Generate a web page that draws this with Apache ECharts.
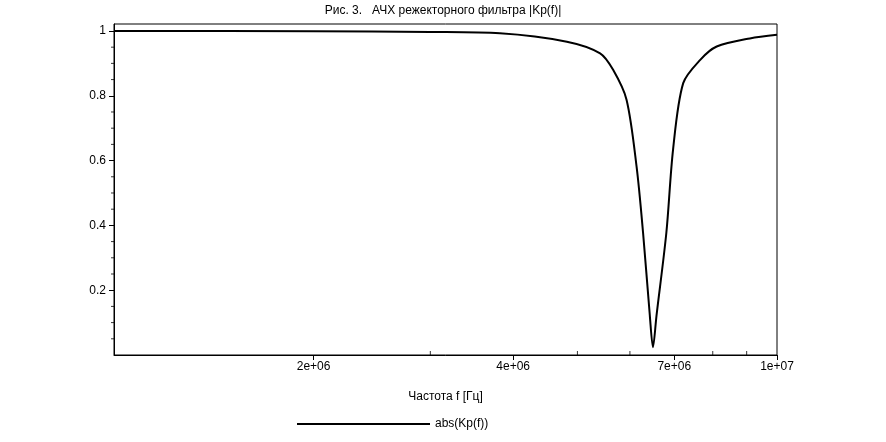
<!DOCTYPE html>
<html><head><meta charset="utf-8">
<script src="https://cdn.jsdelivr.net/npm/echarts@6/dist/echarts.min.js"></script>
<style>html,body{margin:0;padding:0;background:#fff}#c{width:886px;height:442px}</style>
</head><body><div id="c"></div>
<script>
const freq = [1e6,2e6,3e6,3.82e6,4.82e6,5.41e6,5.66e6,5.93e6,6.14e6,6.28e6,6.43e6,6.50e6,6.58e6,6.81e6,6.97e6,7.22e6,7.66e6,8.11e6,9.1e6,1e7];
const gain = [1.0,0.999,0.997,0.993,0.967,0.931,0.88,0.788,0.582,0.378,0.121,0.024,0.121,0.378,0.634,0.839,0.911,0.952,0.977,0.988];
const xLabelValues = [2e6,4e6,7e6,1e7];
const xLabelTexts = ['2e+06','4e+06','7e+06','1e+07'];
const xMinorValues = [3e6,5e6,6e6,8e6,9e6];
const yTicks = [0.2,0.4,0.6,0.8,1];
const fontF = '"Liberation Sans", Arial, sans-serif';
const lg = v => Math.log10(v);
const chart = echarts.init(document.getElementById('c'));
const yMinor = []; for (let i=1;i<=20;i++) yMinor.push(+(i*0.05).toFixed(2));
chart.setOption({
  animation:false,
  title:{text:'Рис. 3.   АЧХ режекторного фильтра |Kp(f)|',left:'center',top:0,textStyle:{fontFamily:fontF,fontSize:12,fontWeight:'normal',color:'#000'}},
  legend:{left:292,top:413,itemWidth:133,itemHeight:14,itemGap:40,icon:'path://M0,6L133,6L133,8L0,8Z',textStyle:{fontFamily:fontF,fontSize:12,color:'#000'},data:['abs(Kp(f))']},
  grid:{left:114,right:109,top:24,bottom:87,show:true,borderColor:'#000',borderWidth:1},
  xAxis:{type:'value',min:6,max:7,name:'Частота f [Гц]',nameLocation:'middle',nameGap:36,
    nameTextStyle:{fontFamily:fontF,fontSize:12,color:'#000'},
    axisLine:{lineStyle:{color:'#000'}},splitLine:{show:false},
    axisTick:{show:true,inside:false,length:5,lineStyle:{color:'#000'},customValues:xLabelValues.map(lg)},
    minorTick:{show:false},
    axisLabel:{customValues:xLabelValues.map(lg),fontFamily:fontF,fontSize:12,color:'#000',margin:6,
      formatter:v=>{let i=xLabelValues.findIndex(x=>Math.abs(lg(x)-v)<1e-6);return i>=0?xLabelTexts[i]:'';}}},
  yAxis:{type:'value',min:0,max:1.0215,
    axisLine:{show:true,lineStyle:{color:'#000'}},splitLine:{show:false},
    axisTick:{show:true,length:5,lineStyle:{color:'#000'},customValues:yTicks},
    axisLabel:{customValues:yTicks,fontFamily:fontF,fontSize:12,color:'#000',margin:8},
  },
  series:[
    {name:'abs(Kp(f))',type:'line',smooth:0.3,showSymbol:false,lineStyle:{color:'#000',width:2},itemStyle:{color:'#000'},
     data:freq.map((f,i)=>[lg(f),gain[i]])},
    {type:'scatter',symbol:'rect',symbolSize:[1,4],symbolOffset:[0,-2],silent:true,itemStyle:{color:'#000'},
     data:xMinorValues.map(f=>[lg(f),0]),clip:false},
    {type:'scatter',symbol:'rect',symbolSize:[3,1],symbolOffset:[-1.5,0],silent:true,itemStyle:{color:'#000'},
     data:yMinor.filter(v=>!yTicks.includes(v)).map(v=>[6,v]),clip:false}
  ]
});
</script></body></html>
